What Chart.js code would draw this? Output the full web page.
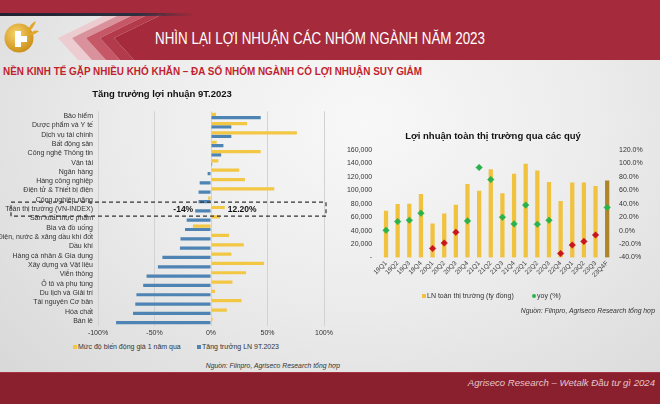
<!DOCTYPE html>
<html>
<head>
<meta charset="utf-8">
<script src="https://cdn.jsdelivr.net/npm/chart.js@4.4.0/dist/chart.umd.min.js"></script>
<style>
  body { margin: 0; width: 660px; height: 404px; overflow: hidden; position: relative;
    font-family: "Liberation Sans", Arial, sans-serif;
    background: radial-gradient(ellipse at 55% 30%, #f8f8f8 0%, #ececec 45%, #d6d6d6 100%); }
  .abs { position: absolute; }
  .txt { position: absolute; white-space: nowrap; transform-origin: left center; line-height: 10px; }
  #topband { left: 0; top: 0; width: 660px; height: 15px; background: #a52a3b; }
  #topline { left: 0; top: 13px; width: 195px; height: 3px;
    background: linear-gradient(90deg, #1f2230 0%, #2b2f3f 70%, rgba(40,40,60,0) 100%); }
  #title { color: #fff; font-family: "Liberation Sans Narrow", "Liberation Sans", Arial, sans-serif; font-size: 17px; line-height: 20px; top: 29px; left: 155px; }
  #subtitle { color: #c21f2f; font-weight: bold; font-family: "Liberation Sans Narrow", "Liberation Sans", Arial, sans-serif; font-size: 11.5px; line-height: 14px; top: 64px; left: 3px; }
  #footer { left: 0; top: 372px; width: 660px; height: 32px; background: #8a1f2d; border-top: 1px solid #a5323f; }
  #foottxt { color: #e7c6c8; font-style: italic; font-size: 9.6px; line-height: 12px; top: 377px; }
  .src { font-style: italic; font-size: 6.8px; color: #333; }
  .leg { font-size: 7px; color: #333; }
  .sw { position: absolute; width: 4px; height: 4px; }
</style>
</head>
<body>
<div id="topband" class="abs"></div>
<svg class="abs" style="left:0;top:15px" width="660" height="45">
  <polygon points="58,23 105,0 119,0 72,23 92,45 78,45" fill="#ecccd0"/>
  <polygon points="72,23 119,0 133,0 86,23 106,45 92,45" fill="#d9929c"/>
  <polygon points="86,23 133,0 147,0 100,23 120,45 106,45" fill="#c65767"/>
  <polygon points="100,23 147,0 161,0 114,23 134,45 120,45" fill="#b33a4b"/>
  <polygon points="114,23 161,0 660,0 660,45 134,45" fill="#a52a3b"/>
</svg>
<div id="topline" class="abs"></div>
<svg class="abs" style="left:3px;top:19px" width="40" height="36">
  <defs>
    <radialGradient id="gold" cx="40%" cy="35%" r="70%">
      <stop offset="0%" stop-color="#f8d36a"/>
      <stop offset="100%" stop-color="#c98c16"/>
    </radialGradient>
  </defs>
  <circle cx="16" cy="19" r="14.5" fill="url(#gold)"/>
  <path d="M12 12 h6 v5 h6 v6 h-6 v5 h-6 z" fill="#fff"/>
  <path d="M24 14 q3 -10 9 -12 q-2 7 -9 12 z M25 16 q6 -6 11 -4 q-5 5 -11 4 z" fill="#e2a72a"/>
</svg>
<div id="title" class="txt">NHÌN LẠI LỢI NHUẬN CÁC NHÓM NGÀNH NĂM 2023</div>
<div id="subtitle" class="txt">NỀN KINH TẾ GẶP NHIỀU KHÓ KHĂN – ĐA SỐ NHÓM NGÀNH CÓ LỢI NHUẬN SUY GIẢM</div>

<canvas id="sectorChart" class="abs" style="left:0;top:85px" width="350" height="255"></canvas>
<canvas id="marketChart" class="abs" style="left:330px;top:120px" width="326" height="170"></canvas>

<div class="sw" style="left:73px;top:345px;background:#f2c744"></div>
<div class="txt leg" style="left:78px;top:342px">Mức độ biến động giá 1 năm qua</div>
<div class="sw" style="left:197px;top:345px;background:#4d84b3"></div>
<div class="txt leg" style="left:202px;top:342px">Tăng trưởng LN 9T.2023</div>
<div id="src1" class="txt src" style="top:361px">Nguồn: Fiinpro, Agriseco Research tổng hợp</div>

<div class="sw" style="left:422px;top:294px;background:#f0c23d"></div>
<div class="txt leg" style="left:427px;top:291px">LN toàn thị trường (tỷ đồng)</div>
<div class="sw" style="left:532px;top:294px;background:#2bb24c;border-radius:2px;width:3.5px;height:3.5px"></div>
<div class="txt leg" style="left:537px;top:291px">yoy (%)</div>
<div id="src2" class="txt src" style="top:306px">Nguồn: Fiinpro, Agriseco Research tổng hợp</div>

<div id="footer" class="abs"></div>
<div id="foottxt" class="txt">Agriseco Research – Wetalk Đầu tư gì 2024</div>

<script>
// left chart: sectors
const sectors = [
  'Bảo hiểm', 'Dược phẩm và Y tế', 'Dịch vụ tài chính', 'Bất động sản', 'Công nghệ Thông tin',
  'Vận tải', 'Ngân hàng', 'Hàng công nghiệp', 'Điện tử & Thiết bị điện', 'Công nghiệp nặng',
  'Toàn thị trường (VN-INDEX)', 'Sản xuất thực phẩm', 'Bia và đồ uống', 'Điện, nước & xăng dầu khí đốt',
  'Dầu khí', 'Hàng cá nhân & Gia dụng', 'Xây dựng và Vật liệu', 'Viễn thông', 'Ô tô và phụ tùng',
  'Du lịch và Giải trí', 'Tài nguyên Cơ bản', 'Hóa chất', 'Bán lẻ'
];
const priceChange = [4.5, 32, 76, 5, 44, 6.5, 25, 30, 56, -2.5, 12.2, 8, -16, 16, 29, 18, 47, 31, 19, 3.5, 27, 14, 1.5];
const profitGrowth = [44, 18, 18, 11, 9, 1, -3, -10, -11, -11, -14, -21.5, -23, -27, -27.5, -43, -47, -57, -60, -66, -67, -69, -84];
const pctTicks = [-100, -50, 0, 50, 100];

// right chart: quarters
const quarters = ['19Q1', '19Q2', '19Q3', '19Q4', '20Q1', '20Q2', '20Q3', '20Q4', '21Q1', '21Q2',
  '21Q3', '21Q4', '22Q1', '22Q2', '22Q3', '22Q4', '23Q1', '23Q2', '23Q3', '23Q4F'];
const marketProfit = [69000, 79000, 79500, 94000, 50000, 65000, 78000, 109000, 99000, 131000,
  95000, 124000, 139000, 129000, 112000, 83500, 111000, 111000, 106000, 114000];
const yoyGrowth = [0.5, 13.5, 15.5, 26, -26.5, -18.5, -2.5, 14.5, 94, 76,
  20, 10, 38, 9.5, 15.5, -34, -21.5, -16, -6.5, 34.5];

const FONT = '"Liberation Sans", Arial, sans-serif';
const GOLD = '#f2c744';
const BLUE = '#4d84b3';
const GOLD2 = '#f0c23d';
const GOLD_DARK = '#ae8629';
const GREEN = '#2bb24c';
const RED = '#c8161d';
const marketLabel = 'Toàn thị trường (VN-INDEX)';

Chart.defaults.font.family = FONT;

// dashed box + value labels around the VN-INDEX row
const marketHighlight = {
  id: 'marketHighlight',
  afterDatasetsDraw(chart) {
    const { ctx, chartArea } = chart;
    const x = chart.scales.x, y = chart.scales.y;
    const i = sectors.indexOf(marketLabel);
    const yc = y.getPixelForValue(i);
    ctx.save();
    ctx.setLineDash([4, 3]);
    ctx.strokeStyle = '#333';
    ctx.lineWidth = 1.2;
    ctx.strokeRect(11, yc - 7, chartArea.right + 2 - 11, 14);
    ctx.setLineDash([]);
    ctx.font = 'bold 8.5px ' + FONT;
    ctx.fillStyle = '#111';
    ctx.textBaseline = 'middle';
    ctx.textAlign = 'right';
    ctx.fillText(profitGrowth[i] + '%', x.getPixelForValue(profitGrowth[i]) - 2, yc);
    ctx.textAlign = 'left';
    ctx.fillText(priceChange[i].toFixed(2) + '%', x.getPixelForValue(priceChange[i]) + 3, yc);
    ctx.restore();
  }
};

new Chart(document.getElementById('sectorChart'), {
  type: 'bar',
  data: {
    labels: sectors,
    datasets: [
      { label: 'Mức độ biến động giá 1 năm qua', data: priceChange, backgroundColor: GOLD },
      { label: 'Tăng trưởng LN 9T.2023', data: profitGrowth, backgroundColor: BLUE }
    ]
  },
  options: {
    indexAxis: 'y',
    responsive: false,
    animation: false,
    datasets: { bar: { categoryPercentage: 0.72, barPercentage: 0.96 } },
    layout: { padding: { left: 0, right: 26, top: 0, bottom: 0 } },
    plugins: {
      legend: { display: false },
      tooltip: { enabled: false },
      title: {
        display: true,
        text: 'Tăng trưởng lợi nhuận 9T.2023',
        color: '#111',
        font: { size: 9.5, weight: 'bold' },
        padding: { top: 4, bottom: 10.9 }
      }
    },
    scales: {
      x: {
        min: -100, max: 100,
        afterBuildTicks: s => { s.ticks = pctTicks.map(v => ({ value: v })); },
        ticks: { callback: v => v + '%', font: { size: 7 }, color: '#333', padding: 3 },
        grid: { color: '#d2d2d2', drawTicks: false },
        border: { display: false },
        afterFit: s => { s.height = 14.3; }
      },
      y: {
        ticks: { font: { size: 7 }, color: '#333', padding: 5, autoSkip: false },
        grid: { display: false, drawTicks: false },
        border: { display: false },
        afterFit: s => { s.width = 98; }
      }
    }
  },
  plugins: [marketHighlight]
});

new Chart(document.getElementById('marketChart'), {
  type: 'bar',
  data: {
    labels: quarters,
    datasets: [
      {
        type: 'bar', label: 'LN toàn thị trường (tỷ đồng)', data: marketProfit, yAxisID: 'y',
        backgroundColor: quarters.map(q => q.endsWith('F') ? GOLD_DARK : GOLD2),
        barThickness: 3.6, order: 2
      },
      {
        type: 'line', label: 'yoy (%)', data: yoyGrowth, yAxisID: 'y1', showLine: false,
        pointStyle: 'rectRot', pointRadius: 3.3,
        pointBackgroundColor: yoyGrowth.map(v => v >= 0 ? GREEN : RED),
        pointBorderColor: yoyGrowth.map(v => v >= 0 ? GREEN : RED),
        pointBorderWidth: 0.5, order: 1
      }
    ]
  },
  options: {
    responsive: false,
    animation: false,
    plugins: {
      legend: { display: false },
      tooltip: { enabled: false },
      title: {
        display: true,
        text: 'Lợi nhuận toàn thị trường qua các quý',
        color: '#111',
        font: { size: 9.5, weight: 'bold' },
        padding: { top: 10.3, bottom: 8.3 }
      }
    },
    scales: {
      x: {
        ticks: { font: { size: 6.5 }, color: '#444', minRotation: 45, maxRotation: 45, autoSkip: false, padding: 2 },
        grid: { display: false, drawTicks: false },
        border: { display: false },
        afterFit: s => { s.height = 32.5; }
      },
      y: {
        position: 'left', min: 0, max: 160000,
        ticks: { stepSize: 20000, callback: v => v === 0 ? '-' : v.toLocaleString('en-US'), font: { size: 7 }, color: '#333', padding: 8 },
        grid: { display: false, drawTicks: false },
        border: { display: false },
        afterFit: s => { s.width = 50.2; }
      },
      y1: {
        position: 'right', min: -40, max: 120,
        ticks: { stepSize: 20, callback: v => v.toFixed(1) + '%', font: { size: 7 }, color: '#333', padding: 6 },
        grid: { display: false, drawTicks: false },
        border: { display: false },
        afterFit: s => { s.width = 43; }
      }
    }
  }
});

// fit header texts to their widths in the slide
function fitTo(id, left, right) {
  const el = document.getElementById(id);
  const w = el.getBoundingClientRect().width;
  el.style.left = left + 'px';
  el.style.transform = 'scaleX(' + ((right - left) / w) + ')';
}
function alignRight(id, right) {
  const el = document.getElementById(id);
  el.style.left = (right - el.getBoundingClientRect().width) + 'px';
}
fitTo('title', 155, 485);
fitTo('subtitle', 3, 422);
alignRight('src1', 340);
alignRight('src2', 655);
alignRight('foottxt', 655);
</script>
</body>
</html>
